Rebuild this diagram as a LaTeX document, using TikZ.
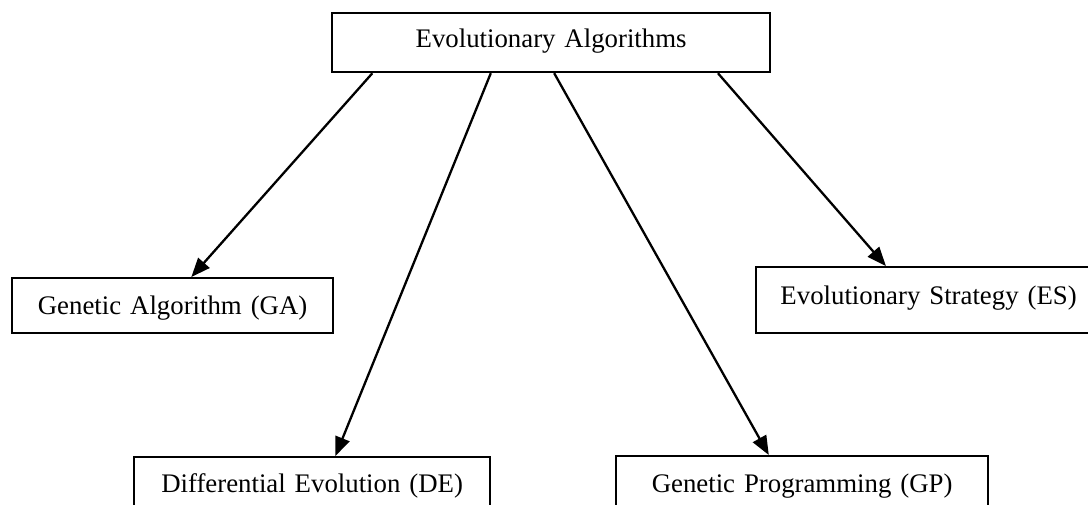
\documentclass[tikz,border=0pt]{standalone}
\usepackage{fontspec}
\setmainfont{Liberation Serif}
\usetikzlibrary{arrows.meta,calc}

\tikzset{
  box/.style={draw=black, line width=1.1pt, rectangle, inner sep=0pt,
    anchor=north west, align=center,
    font=\fontsize{13.4pt}{16pt}\selectfont},
  link/.style={line width=1.15pt, -{Triangle[length=9.5pt,width=7.5pt]}}
}

\begin{document}
\begin{tikzpicture}[x=0.5pt, y=-0.5pt]
  \clip (0,0) rectangle (1088,504);
  \fill[white] (0,0) rectangle (1088,504);

  % root of the taxonomy
  \node[box, text width=219pt, text height=17pt, text depth=12.5pt]
    (ea) at (331,12) {Evolutionary Algorithms};

  % the four families
  \node[box, text width=160.5pt, text height=18pt, text depth=9.5pt]
    (ga) at (11,277) {Genetic Algorithm (GA)};
  \node[box, text width=172.5pt, text height=18.5pt, text depth=14.5pt]
    (es) at (755,266) {Evolutionary Strategy (ES)};
  \node[box, text width=178pt, text height=17.5pt, text depth=14.5pt]
    (de) at (133,456) {Differential Evolution (DE)};
  \node[box, text width=186pt, text height=18pt, text depth=14.5pt]
    (gp) at (615,455) {Genetic Programming (GP)};

  % branches
  \draw[link] ($(ea.south west)!0.094!(ea.south east)$) -- ($(ga.north west)!0.558!(ga.north east)$);
  \draw[link] ($(ea.south west)!0.363!(ea.south east)$) -- ($(de.north west)!0.565!(de.north east)$);
  \draw[link] ($(ea.south west)!0.507!(ea.south east)$) -- ($(gp.north west)!0.411!(gp.north east)$);
  \draw[link] ($(ea.south west)!0.879!(ea.south east)$) -- ($(es.north west)!0.377!(es.north east)$);
\end{tikzpicture}
\end{document}
